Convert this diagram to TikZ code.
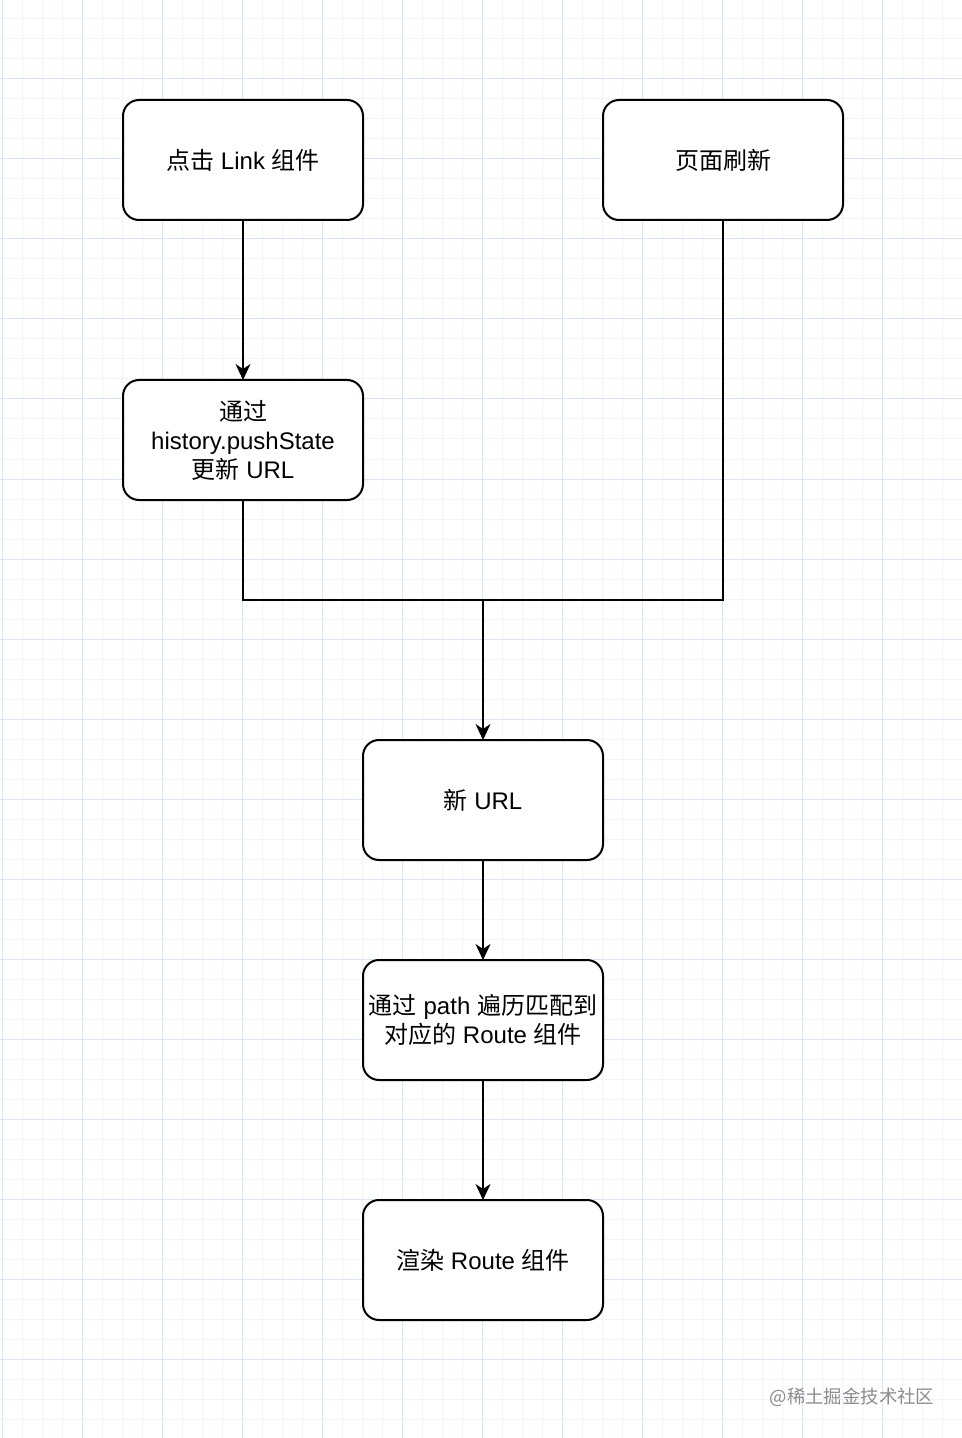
\documentclass[tikz,border=0pt]{standalone}
\usepackage{fontspec}
\setmainfont{Liberation Sans}
\newfontfamily\cjk{Noto Sans CJK SC}
\usepackage{xcolor}
\usetikzlibrary{arrows.meta,positioning}

\definecolor{gridminor}{RGB}{240,244,252}
\definecolor{gridmajor}{RGB}{216,229,248}

\begin{document}
\begin{tikzpicture}[x=0.5pt,y=-0.5pt,
  box/.style={draw,line width=1pt,outer sep=0pt,inner xsep=2pt,rounded corners=8pt,fill=white,minimum width=120pt,minimum height=60pt,align=center,font=\fontsize{12}{14.5}\selectfont},
  arr/.style={-{Stealth[length=8pt,width=7.5pt,inset=2.5pt]},line width=1pt},
  link/.style={line width=1pt},
  minor/.style={draw=gridminor,line width=0.5pt},
  major/.style={draw=gridmajor,line width=0.5pt}]
\useasboundingbox (0,0) rectangle (962,1438);
% background grid
\foreach \gx in {2,22,...,962} \draw[minor] (\gx,0) -- (\gx,1438);
\foreach \gy in {19,39,...,1438} \draw[minor] (0,\gy) -- (962,\gy);
\foreach \gx in {2,82,...,962} \draw[major] (\gx,0) -- (\gx,1438);
\foreach \gy in {79,159,...,1438} \draw[major] (0,\gy) -- (962,\gy);

\node[box] (click) at (243,160) {{\cjk 点击} Link {\cjk 组件}};
\node[box,right=120pt of click] (reload) {\cjk 页面刷新};
\node[box,below=80pt of click] (push) {{\cjk 通过}\\history.pushState\\{\cjk 更新} URL};
\coordinate (join) at (483,600);
\node[box,below=70pt of join] (newurl) {{\cjk 新} URL};
\node[box,below=50pt of newurl] (match) {{\cjk 通过} path {\cjk 遍历匹配到}\\{\cjk 对应的} Route {\cjk 组件}};
\node[box,below=60pt of match] (render) {{\cjk 渲染} Route {\cjk 组件}};

\draw[arr] (click) -- (push);
\draw[link] (push.south) |- (join);
\draw[link] (reload.south) |- (join);
\draw[arr] (join) -- (newurl);
\draw[arr] (newurl) -- (match);
\draw[arr] (match) -- (render);

\node[text=black!45,font=\cjk\fontsize{9.2}{11}\selectfont] (mark) at (852,1397) {@稀土掘金技术社区};
\end{tikzpicture}
\end{document}
